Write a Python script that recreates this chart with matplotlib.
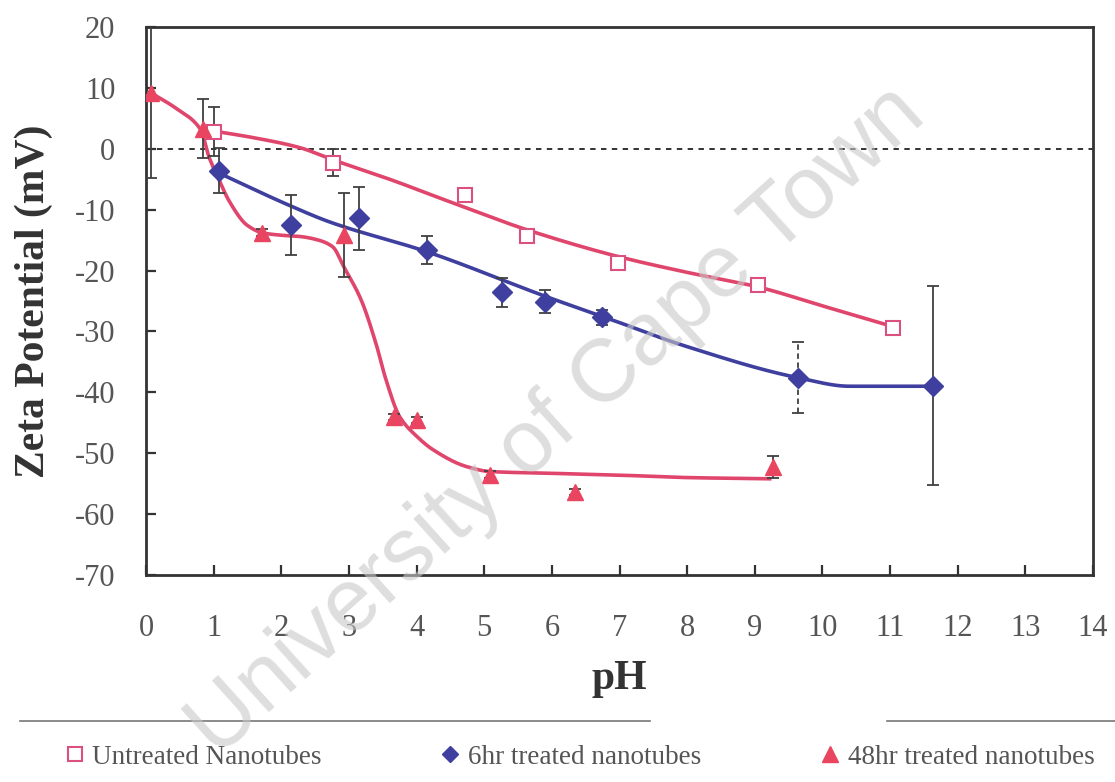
import numpy as np
import matplotlib
matplotlib.use('Agg')
import matplotlib.pyplot as plt
from matplotlib.lines import Line2D

plt.rcParams['font.family'] = 'Liberation Serif'
plt.rcParams['axes.unicode_minus'] = False

# measured points (pH, zeta potential in mV, error bar half-height)
untreated_ph = [1.0, 2.76, 4.71, 5.63, 6.98, 9.05, 11.04]
untreated_zeta = [2.8, -2.3, -7.55, -14.4, -18.7, -22.3, -29.4]
untreated_err = [4.0, 2.2, 0.5, 0.5, 0.5, 0.5, 0.5]

sixhr_ph = [1.08, 2.15, 3.15, 4.15, 5.27, 5.9, 6.74, 9.64, 11.63]
sixhr_zeta = [-3.6, -12.5, -11.4, -16.6, -23.6, -25.1, -27.7, -37.6, -38.9]
sixhr_err = [3.7, 4.9, 5.2, 2.3, 2.4, 1.9, 1.3, 5.8, 16.4]

fortyeight_ph = [0.07, 0.84, 1.72, 2.93, 3.66, 4.0, 5.08, 6.34, 9.27]
fortyeight_zeta = [9.2, 3.3, -13.8, -14.1, -44.0, -44.5, -53.5, -56.3, -52.2]
fortyeight_err = [14.0, 4.8, 0.6, 6.9, 0.5, 0.5, 0.5, 0.5, 1.8]

# hand-drawn trend curves
untreated_fit_ph = [0.95, 1.6, 2.27, 2.76, 3.6, 4.49, 5.63, 6.98, 8.0, 9.05, 10.0, 11.04]
untreated_fit_zeta = [3.0, 1.8, 0.2, -1.8, -5.0, -8.7, -13.3, -17.7, -20.3, -22.7, -25.8, -29.2]

sixhr_fit_ph = [1.08, 2.12, 2.71, 4.15, 5.97, 6.74, 8.0, 9.64, 10.4, 11.63]
sixhr_fit_zeta = [-4.0, -9.3, -12.0, -16.9, -24.5, -27.5, -32.5, -37.6, -39.0, -39.0]

fortyeight_fit_ph = [0.07, 0.45, 0.81, 0.93, 1.08, 1.23, 1.5, 1.72, 2.0, 2.27, 2.55, 2.76,
                     2.93, 3.18, 3.4, 3.55, 3.75, 4.0, 4.24, 4.74, 5.08, 6.0, 7.0, 8.0, 9.22]
fortyeight_fit_zeta = [9.2, 6.6, 3.1, -1.3, -5.1, -8.6, -12.6, -13.8, -14.2, -14.4, -15.0, -16.1,
                       -19.5, -24.8, -32.0, -38.0, -44.0, -47.2, -49.4, -52.2, -53.0, -53.3, -53.6, -54.0, -54.2]

legend_labels = ['Untreated Nanotubes', '6hr treated nanotubes', '48hr treated nanotubes']


def smooth(x, y, n=400):
    # monotone cubic (pchip style) so the drawn line looks like a smoothed curve
    x = np.asarray(x, float)
    y = np.asarray(y, float)
    h = np.diff(x)
    d = np.diff(y) / h
    m = np.zeros_like(y)
    m[0] = d[0]
    m[-1] = d[-1]
    for k in range(1, len(x) - 1):
        if d[k - 1] * d[k] <= 0:
            m[k] = 0.0
        else:
            w1 = 2 * h[k] + h[k - 1]
            w2 = h[k] + 2 * h[k - 1]
            m[k] = (w1 + w2) / (w1 / d[k - 1] + w2 / d[k])
    xs = np.linspace(x[0], x[-1], n)
    idx = np.clip(np.searchsorted(x, xs) - 1, 0, len(x) - 2)
    t = (xs - x[idx]) / h[idx]
    h00 = 2 * t**3 - 3 * t**2 + 1
    h10 = t**3 - 2 * t**2 + t
    h01 = -2 * t**3 + 3 * t**2
    h11 = t**3 - t**2
    ys = h00 * y[idx] + h10 * h[idx] * m[idx] + h01 * y[idx + 1] + h11 * h[idx] * m[idx + 1]
    return xs, ys


pink = '#e0466c'
sq_edge = '#dc5080'
red = '#ea4560'
blue = '#3f3f9f'
err_col = '#404040'

fig = plt.figure(figsize=(11.15, 7.82), dpi=100)
ax = fig.add_axes([146 / 1115, 1 - 575 / 782, (1093 - 146) / 1115, (575 - 27) / 782])

ax.axhline(0, color='#222222', lw=1.3, dashes=(3, 3), zorder=1)

for fx, fy, c in [(untreated_fit_ph, untreated_fit_zeta, pink),
                  (sixhr_fit_ph, sixhr_fit_zeta, blue),
                  (fortyeight_fit_ph, fortyeight_fit_zeta, pink)]:
    xs, ys = smooth(fx, fy)
    ax.plot(xs, ys, color=c, lw=2.6, zorder=2)

ax.errorbar(untreated_ph, untreated_zeta, yerr=untreated_err, fmt='none',
            ecolor=err_col, elinewidth=1.3, capsize=4, capthick=1.3, zorder=3)
eb = ax.errorbar(sixhr_ph, sixhr_zeta, yerr=sixhr_err, fmt='none',
                 ecolor=err_col, elinewidth=1.3, capsize=4, capthick=1.3, zorder=3)
styles = ['solid'] * len(sixhr_ph)
styles[7] = (0, (3, 2))
eb[2][0].set_linestyle(styles)
ax.errorbar(fortyeight_ph, fortyeight_zeta, yerr=fortyeight_err, fmt='none',
            ecolor=err_col, elinewidth=1.3, capsize=4, capthick=1.3, zorder=3)

ax.plot(untreated_ph, untreated_zeta, 's', ms=10.5, mfc='white', mec=sq_edge, mew=1.5,
        ls='none', zorder=4)
ax.plot(sixhr_ph, sixhr_zeta, 'D', ms=10.5, color=blue, ls='none', zorder=4)
ax.plot(fortyeight_ph, fortyeight_zeta, '^', ms=11, color=red, ls='none', zorder=4)

ax.set_xlim(0, 14)
ax.set_ylim(-70, 20)
ax.set_xticks(range(0, 15))
ax.set_yticks(range(-70, 21, 10))
ax.tick_params(direction='in', length=7, width=1.6, colors='#333333', labelcolor='#555555',
               labelsize=22)
ax.tick_params(axis='x', pad=28)
ax.tick_params(axis='y', pad=22)
for s in ax.spines.values():
    s.set_linewidth(2)
    s.set_color('#333333')

ax.set_xlabel('pH', fontsize=30, fontweight='bold', color='#333333', labelpad=12)
ax.set_ylabel('Zeta Potential (mV)', fontsize=30, fontweight='bold', color='#333333', labelpad=16)

# legend strip under the chart
handles = [Line2D([], [], marker='s', ls='none', ms=10, mfc='white', mec=sq_edge, mew=1.5),
           Line2D([], [], marker='D', ls='none', ms=8, color=blue),
           Line2D([], [], marker='^', ls='none', ms=11, color=red)]
fig.legend(handles, legend_labels, loc='center', bbox_to_anchor=(0.52, 1 - 757 / 782),
           ncol=3, frameon=False, fontsize=19.5, handlelength=0.7, handletextpad=0.3,
           columnspacing=4.4, labelcolor='#555555')
fig.add_artist(Line2D([20 / 1115, 650 / 1115], [1 - 721 / 782] * 2, color='#777777', lw=1.2))
fig.add_artist(Line2D([887 / 1115, 1.0], [1 - 721 / 782] * 2, color='#777777', lw=1.2))

# watermark
fig.text(0.5, 0.46, 'University of Cape Town', rotation=42, fontsize=64,
         family='Liberation Sans', color='#c8c8c8', alpha=0.6, ha='center', va='center',
         zorder=10)

fig.savefig('out.png', dpi=100)
